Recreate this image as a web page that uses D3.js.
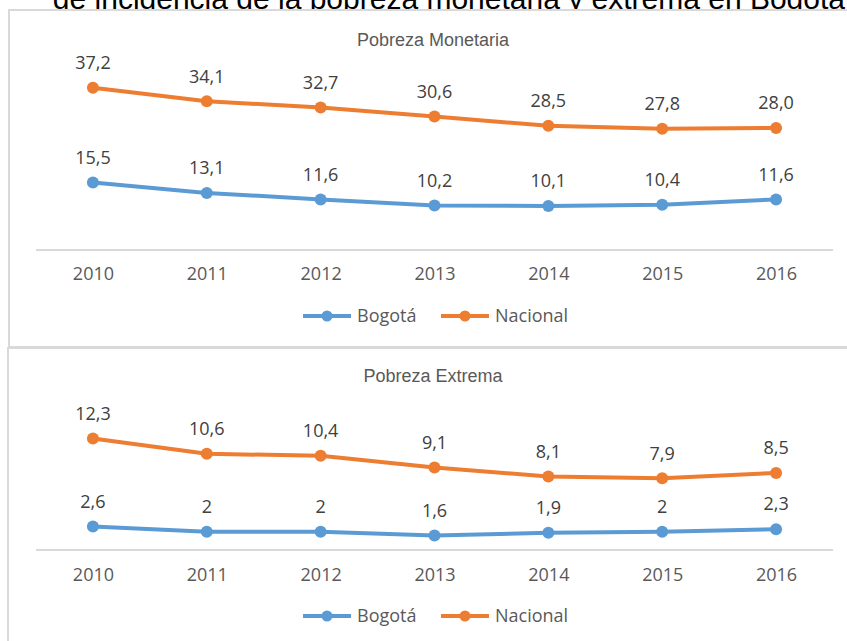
<!DOCTYPE html>
<html><head><meta charset="utf-8">
<script src="https://cdn.jsdelivr.net/npm/d3@7"></script>
<style>body{margin:0;background:#fff}svg{display:block}</style>
</head><body>
<svg id="c" width="847" height="641"></svg>
<script>
const years = ["2010","2011","2012","2013","2014","2015","2016"];
const monetariaBogota = [15.5, 13.1, 11.6, 10.2, 10.1, 10.4, 11.6];
const monetariaNacional = [37.2, 34.1, 32.7, 30.6, 28.5, 27.8, 28.0];
const extremaBogota = [2.6, 2, 2, 1.6, 1.9, 2, 2.3];
const extremaNacional = [12.3, 10.6, 10.4, 9.1, 8.1, 7.9, 8.5];
const seriesNames = ["Bogotá", "Nacional"];
const colors = {"Bogotá": "#5b9bd5", "Nacional": "#ed7d31"};
const fmt = v => String(v).replace(".", ",");
const fmtFixed = v => v.toFixed(1).replace(".", ",");

const svg = d3.select("#c");

// Cropped document title
svg.append("text").attr("x", 845).attr("y", 9).attr("text-anchor", "end")
  .attr("font-family", "Liberation Sans, Arial, sans-serif").attr("font-size", 30)
  .attr("fill", "#000").text("de incidencia de la pobreza monetaria y extrema en Bogotá");

const panels = [
  {title: "Pobreza Monetaria", top: 10, boxX: 9, boxH: 337, titleY: 40, y0: 250, yTop: 75.6, max: 40,
   data: {"Bogotá": monetariaBogota, "Nacional": monetariaNacional}, f: fmtFixed, legendY: 316, yearY: 274},
  {title: "Pobreza Extrema", top: 348, boxX: 8, boxH: 320, titleY: 376, y0: 550, yTop: 423, max: 14,
   data: {"Bogotá": extremaBogota, "Nacional": extremaNacional}, f: fmt, legendY: 616, yearY: 575}
];

const x = d3.scalePoint().domain(years).range([36, 833]).padding(0.5);

panels.forEach(p => {
  const g = svg.append("g");
  g.append("rect").attr("x", p.boxX).attr("y", p.top).attr("width", 900).attr("height", p.boxH)
    .attr("fill", "#fff").attr("stroke", "#d9d9d9").attr("stroke-width", 2);
  g.append("text").attr("x", 433).attr("y", p.titleY).attr("text-anchor", "middle")
    .attr("dominant-baseline", "central")
    .attr("font-family", "Liberation Sans Narrow, Arial Narrow, sans-serif").attr("font-size", 18)
    .attr("fill", "#595959").text(p.title);

  const y = d3.scaleLinear().domain([0, p.max]).range([p.y0, p.yTop]);

  const axis = d3.axisBottom(x).tickSize(0).tickPadding(0);
  const ax = g.append("g").attr("transform", `translate(0,${p.y0})`).call(axis);
  ax.select(".domain").attr("stroke", "#d9d9d9").attr("stroke-width", 2).attr("d", "M36,0H833");
  ax.selectAll(".tick text").attr("y", p.yearY - p.y0).attr("dy", "0.35em")
    .attr("font-family", "Open Sans, sans-serif").attr("font-size", 18).attr("fill", "#595959");

  const line = d3.line().x((d, i) => x(years[i])).y(d => y(d));
  seriesNames.forEach(s => {
    const vals = p.data[s];
    g.append("path").datum(vals).attr("d", line).attr("fill", "none")
      .attr("stroke", colors[s]).attr("stroke-width", 4).attr("stroke-linejoin", "round");
    g.selectAll(null).data(vals).enter().append("circle")
      .attr("cx", (d, i) => x(years[i])).attr("cy", d => y(d)).attr("r", 6).attr("fill", colors[s]);
    g.selectAll(null).data(vals).enter().append("text")
      .attr("x", (d, i) => x(years[i])).attr("y", d => y(d) - 25).attr("dy", "0.35em")
      .attr("text-anchor", "middle").attr("font-family", "Open Sans, sans-serif").attr("font-size", 18)
      .attr("fill", "#404040").text(d => p.f(d));
  });

  // legend
  const lg = g.append("g").attr("transform", `translate(0,${p.legendY})`);
  const lx = {"Bogotá": 303, "Nacional": 441};
  seriesNames.forEach(s => {
    lg.append("line").attr("x1", lx[s]).attr("x2", lx[s] + 48).attr("y1", 0).attr("y2", 0)
      .attr("stroke", colors[s]).attr("stroke-width", 4);
    lg.append("circle").attr("cx", lx[s] + 24).attr("cy", 0).attr("r", 5.5).attr("fill", colors[s]);
    lg.append("text").attr("x", lx[s] + 54).attr("y", 0).attr("dy", "0.35em")
      .attr("font-family", "Open Sans, sans-serif").attr("font-size", 18).attr("fill", "#595959").text(s);
  });
});
</script>
</body></html>
